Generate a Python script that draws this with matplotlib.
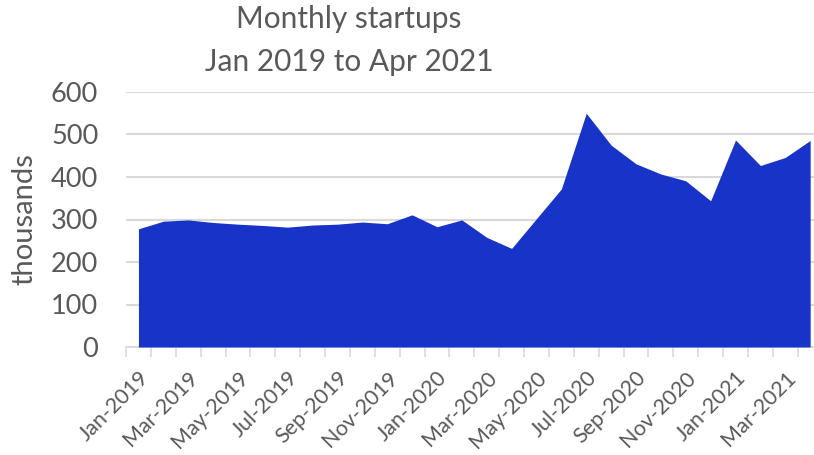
import matplotlib
matplotlib.use("Agg")
import matplotlib.pyplot as plt
import numpy as np

plt.rcParams['font.family'] = ['Lato', 'DejaVu Sans']

# monthly startups, thousands, Jan 2019 .. Apr 2021
months = ['Jan-2019', 'Feb-2019', 'Mar-2019', 'Apr-2019', 'May-2019', 'Jun-2019',
          'Jul-2019', 'Aug-2019', 'Sep-2019', 'Oct-2019', 'Nov-2019', 'Dec-2019',
          'Jan-2020', 'Feb-2020', 'Mar-2020', 'Apr-2020', 'May-2020', 'Jun-2020',
          'Jul-2020', 'Aug-2020', 'Sep-2020', 'Oct-2020', 'Nov-2020', 'Dec-2020',
          'Jan-2021', 'Feb-2021', 'Mar-2021', 'Apr-2021']
startups = [278, 296, 299, 293, 289, 286, 282, 287, 289, 294, 290, 311,
            283, 299, 258, 232, 302, 372, 550, 475, 431, 407, 391, 344,
            487, 427, 446, 486]
yticks = [0, 100, 200, 300, 400, 500, 600]

txt = '#595959'
grid = '#d9d9d9'

fig = plt.figure(figsize=(8.14, 4.55), dpi=100)
ax = fig.add_axes([126 / 814, 1 - 347 / 455, (822.6 - 126) / 814, 255 / 455])

x = np.arange(len(months))
ax.fill_between(x, startups, 0, color='#1733c8', linewidth=0, zorder=3)

ax.set_xlim(-0.5, len(months) - 0.5)
ax.set_ylim(0, 600)
ax.set_yticks(yticks)
ax.set_yticklabels([str(v) for v in yticks], fontsize=19.5, color=txt)
ax.tick_params(axis='y', length=0, pad=20)
ax.yaxis.grid(True, color=grid, linewidth=1.5, zorder=0)

ax.set_xticks(np.arange(-0.5, len(months)), minor=True)
ax.set_xticks(x[::2])
ax.set_xticklabels(months[::2], rotation=45, ha='right', rotation_mode='anchor',
                   fontsize=15.5, color=txt)
ax.tick_params(axis='x', which='major', length=0, pad=15)
ax.tick_params(axis='x', which='minor', length=7, color=grid, width=1.2)

for s in ['top', 'right', 'left']:
    ax.spines[s].set_visible(False)
ax.spines['bottom'].set_color(grid)
ax.spines['bottom'].set_linewidth(1.2)
ax.set_axisbelow(True)

ax.set_ylabel('thousands', fontsize=21, color=txt)
ax.yaxis.set_label_coords(-0.127, 0.5)

fig.text(349 / 814, 1 - 19 / 455, 'Monthly startups', ha='center', va='center',
         fontsize=21.5, color=txt)
fig.text(349 / 814, 1 - 62 / 455, 'Jan 2019 to Apr 2021', ha='center', va='center',
         fontsize=21.5, color=txt)

fig.savefig('out.png', dpi=100)
